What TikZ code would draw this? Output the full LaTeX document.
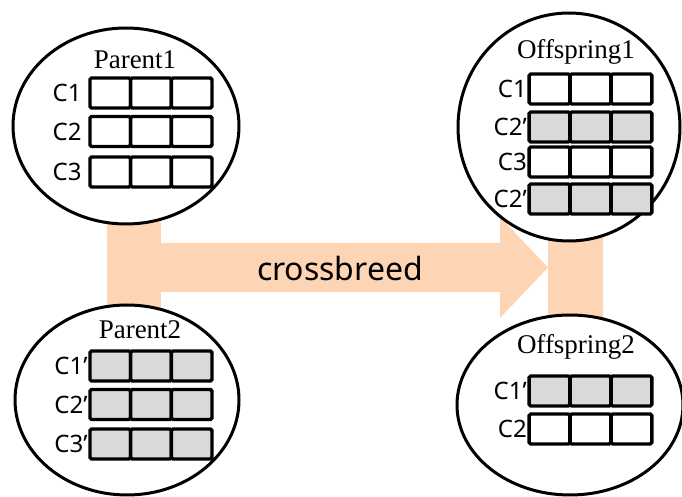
\documentclass[tikz,border=0pt]{standalone}
\usepackage{fontspec}
\setmainfont{Liberation Serif}
\setsansfont{Noto Sans}
\usepackage{tikz}
\usetikzlibrary{positioning,shapes.geometric}

\definecolor{peach}{RGB}{253,213,180}
\definecolor{genegray}{RGB}{217,217,217}

\tikzset{
  blob/.style={ellipse, draw, fill=white, line width=1.5pt, inner sep=0pt},
  title/.style={font=\fontsize{13.5}{15}\selectfont, inner sep=0pt},
  cell/.style={draw, line width=1.7pt, rounded corners=0.8pt, minimum width=20.33pt,
    minimum height=15pt, inner sep=0pt, outer sep=0pt},
  lbl/.style={font=\sffamily\fontsize{12}{14}\selectfont, inner sep=0pt},
}

\begin{document}
\begin{tikzpicture}[x=0.5pt,y=-0.5pt]
    \useasboundingbox (0,0) rectangle (682,497);

    % crossbreed band
    \fill[peach] (107,220) rectangle (161,312);
    \fill[peach] (548,230) rectangle (603,322);
    \fill[peach] (107,243) -- (500,243) -- (500,217) -- (548,267.5)
        -- (500,318) -- (500,292) -- (107,292) -- cycle;
    \node[font=\sffamily\fontsize{16}{18}\selectfont] (cross) at (340,269) {crossbreed};

    \node[blob, minimum width=113pt, minimum height=98pt] (p1) at (126,126) {};
    \node[blob, minimum width=112pt, minimum height=95pt] (p2) at (127,400) {};
    \node[blob, minimum width=111pt, minimum height=114pt] (o1) at (569,127) {};
    \node[blob, minimum width=113pt, minimum height=90pt] (o2) at (570,405) {};

    \node[title] (t1) at (135,60) {Parent1};
    \node[title] (t2) at (140,330) {Parent2};
    \node[title] (t3) at (576,52) {Offspring1};
    \node[title] (t4) at (576,347) {Offspring2};

    \foreach \r/\yy/\col/\lab in {1/93/white/C1, 2/131.5/white/C2, 3/172/white/C3} {
        \foreach \k in {1,2,3}
            \node[cell, fill=\col] (p1r\r-\k) at ({110.3+40.67*(\k-1)},\yy) {};
        \node[lbl, left=4pt of p1r\r-1] (p1l\r) {\lab};
    }
    \foreach \r/\yy/\col/\lab in {1/366/genegray/C1’, 2/404.5/genegray/C2’, 3/444/genegray/C3’} {
        \foreach \k in {1,2,3}
            \node[cell, fill=\col] (p2r\r-\k) at ({110.3+40.67*(\k-1)},\yy) {};
        \node[lbl, left=1pt of p2r\r-1] (p2l\r) {\lab};
    }
    \foreach \r/\yy/\col/\lab in {1/89/white/C1, 2/127/genegray/C2’, 3/162/white/C3, 4/199/genegray/C2’} {
        \foreach \k in {1,2,3}
            \node[cell, fill=\col] (o1r\r-\k) at ({549.5+41*(\k-1)},\yy) {};
        \node[lbl, left=1pt of o1r\r-1] (o1l\r) {\lab};
    }
    \foreach \r/\yy/\col/\lab in {1/391/genegray/C1’, 2/429/white/C2} {
        \foreach \k in {1,2,3}
            \node[cell, fill=\col] (o2r\r-\k) at ({549.5+41*(\k-1)},\yy) {};
        \node[lbl, left=1pt of o2r\r-1] (o2l\r) {\lab};
    }
\end{tikzpicture}
\end{document}
